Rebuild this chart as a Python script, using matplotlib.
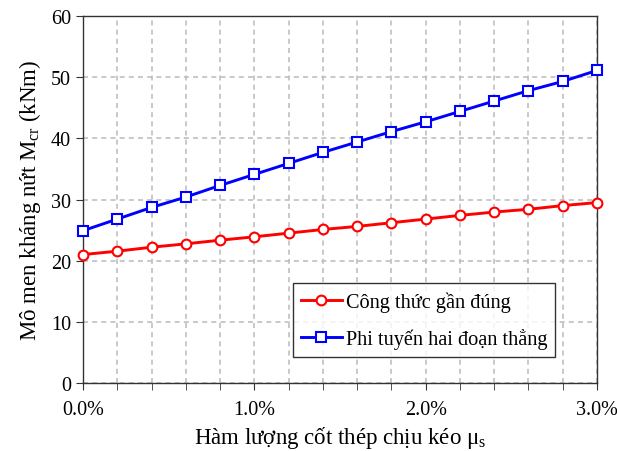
import matplotlib
matplotlib.use("Agg")
import matplotlib.pyplot as plt
from matplotlib.ticker import MultipleLocator, FuncFormatter

plt.rcParams['font.family'] = ['Liberation Serif', 'DejaVu Serif']
plt.rcParams['mathtext.fontset'] = 'custom'
plt.rcParams['mathtext.rm'] = 'Liberation Serif'
plt.rcParams['mathtext.it'] = 'Liberation Serif:italic'

mu = [0.0, 0.2, 0.4, 0.6, 0.8, 1.0, 1.2, 1.4, 1.6, 1.8, 2.0, 2.2, 2.4, 2.6, 2.8, 3.0]
cong_thuc = [21.0, 21.55, 22.2, 22.75, 23.35, 23.9, 24.5, 25.1, 25.6, 26.2, 26.8, 27.4, 27.95, 28.4, 29.0, 29.5]
phi_tuyen = [24.9, 26.8, 28.7, 30.4, 32.3, 34.1, 35.9, 37.7, 39.4, 41.1, 42.7, 44.4, 46.1, 47.8, 49.3, 51.1]
labels = ['Công thức gần đúng', 'Phi tuyến hai đoạn thẳng']

fig = plt.figure(figsize=(6.17, 4.52), dpi=100)
ax = fig.add_axes([0.1345, 0.1504, 0.833, 0.812])

ax.plot(mu, cong_thuc, color='#ff0000', lw=2.1, marker='o', ms=7,
        mfc='white', mec='#ff0000', mew=1.5, label=labels[0], zorder=3, clip_on=False)
ax.plot(mu, phi_tuyen, color='#0000ff', lw=2.1, marker='s', ms=7.5,
        mfc='white', mec='#0000ff', mew=1.5, label=labels[1], zorder=3, clip_on=False)

ax.set_xlim(0, 3.0)
ax.set_ylim(0, 60)
ax.xaxis.set_major_locator(MultipleLocator(1.0))
ax.xaxis.set_minor_locator(MultipleLocator(0.2))
ax.yaxis.set_major_locator(MultipleLocator(10))
ax.xaxis.set_major_formatter(FuncFormatter(lambda v, p: f"{v:.1f}%"))
ax.grid(True, which='both', axis='x', color='#bfbfbf', ls=(0, (3, 2.5)), lw=1.2)
ax.grid(True, which='major', axis='y', color='#bfbfbf', ls=(0, (3, 2.5)), lw=1.2)
ax.set_axisbelow(True)
ax.tick_params(axis='both', which='major', direction='out', length=5, labelsize=14.5, color='#333333')
ax.tick_params(axis='x', which='minor', direction='out', length=5, color='#333333')
ax.tick_params(axis='x', which='major', pad=7)
for s in ax.spines.values():
    s.set_color('#333333')
    s.set_linewidth(1.0)

ax.set_xlabel('Hàm lượng cốt thép chịu kéo μ$_{\\mathrm{s}}$', fontsize=16.5, labelpad=4)
ax.set_ylabel('Mô men kháng nứt M$_{\\mathrm{cr}}$ (kNm)', fontsize=16.5, labelpad=6)

leg = ax.legend(loc='lower left', bbox_to_anchor=(0.4086, 0.0708), borderaxespad=0,
                fontsize=14.6, frameon=True, fancybox=False, edgecolor='#000000',
                handlelength=2.0, borderpad=0.4, labelspacing=0.8, handletextpad=0.2)
leg.get_frame().set_linewidth(1.0)

fig.savefig('out.png', dpi=100)
